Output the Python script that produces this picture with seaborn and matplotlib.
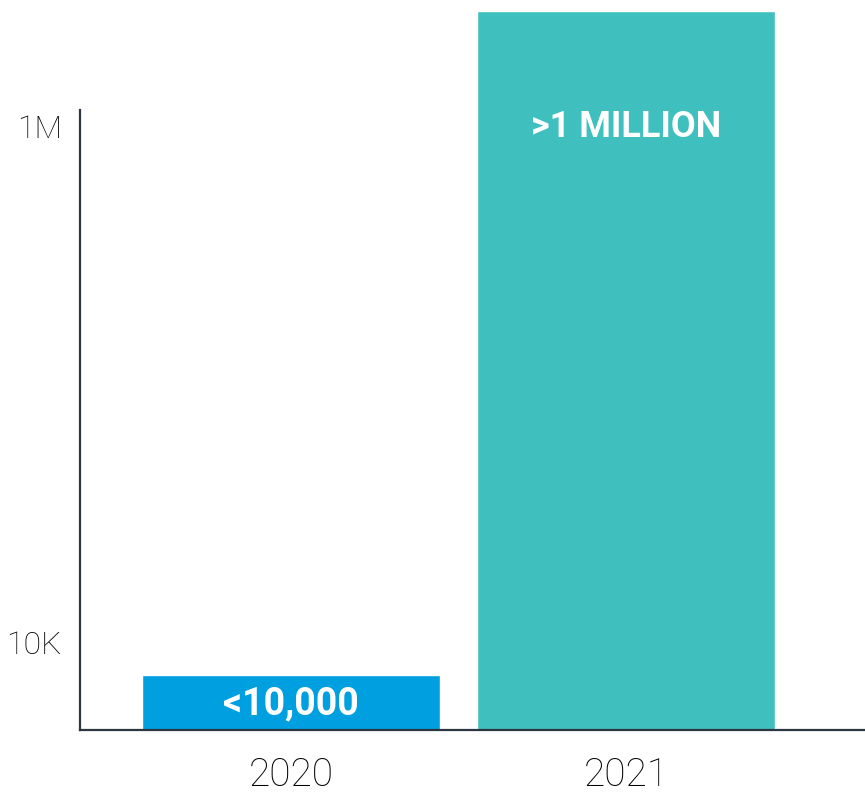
import pandas as pd
import matplotlib.pyplot as plt
import seaborn as sns

# Chart data
years = ['2020', '2021']
counts = [7500, 2800000]
bar_labels = ['<10,000', '>1 MILLION']
bar_colors = ['#009FDF', '#40BFBF']
tick_values = [1e4, 1e6]
tick_labels = ['10K', '1M']

df = pd.DataFrame({'year': years, 'count': counts})

sns.set_style('white')
plt.rcParams['font.family'] = ['Roboto', 'DejaVu Sans']

fig = plt.figure(figsize=(8.65, 7.93), dpi=100)
ax = fig.add_axes([80 / 865, 63 / 793, 785 / 865, 730 / 793])

sns.barplot(data=df, x='year', y='count', hue='year', palette=bar_colors,
            width=0.89, legend=False, ax=ax, saturation=1)

ax.set_yscale('log')
ax.set_ylim(4600, 3.1e6)
ax.set_xlim(-0.63, 1.713)

ax.set_yticks(tick_values)
ax.set_yticklabels(tick_labels)
ax.minorticks_off()
ax.tick_params(axis='both', length=0)
ax.tick_params(axis='y', pad=13, labelsize=23)
ax.tick_params(axis='x', pad=19, labelsize=28)
for lbl in ax.get_yticklabels() + ax.get_xticklabels():
    lbl.set_fontweight('light')
    lbl.set_color('#000000')

ax.set_xlabel('')
ax.set_ylabel('')

# Value labels inside the bars
label_y = [5800, 1e6]
sizes = [27, 26]
for i, (txt, y) in enumerate(zip(bar_labels, label_y)):
    ax.text(i, y, txt, ha='center', va='center', color='white',
            fontsize=sizes[i], fontweight='bold')

sns.despine(ax=ax, top=True, right=True)
for side in ['left', 'bottom']:
    ax.spines[side].set_color('#2b3640')
    ax.spines[side].set_linewidth(1.6)
ax.spines['left'].set_bounds(4600, 1.165e6)

plt.savefig('out.png', dpi=100)
